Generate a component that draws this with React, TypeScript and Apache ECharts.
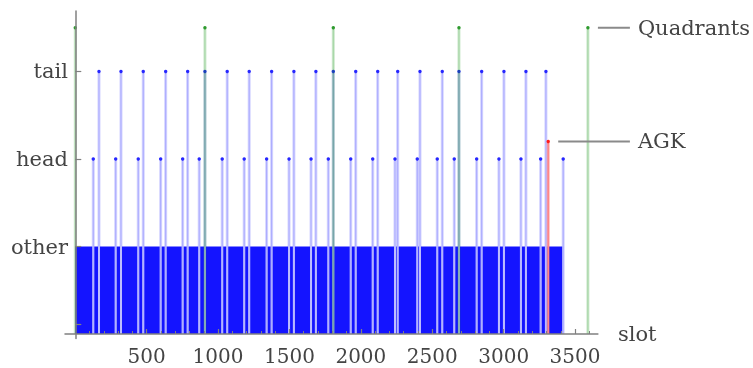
import React, { useEffect, useRef } from 'react';
import * as echarts from 'echarts';

// ---- data ----
const headSlots = [126, 283, 441, 598, 752, 868, 1029, 1183, 1340, 1497, 1651, 1772, 1929, 2083, 2239, 2395, 2535, 2654, 2811, 2967, 3121, 3259, 3417];
const tailSlots = [166, 320, 476, 633, 787, 908, 1064, 1218, 1375, 1531, 1685, 1807, 1964, 2118, 2258, 2414, 2570, 2687, 2846, 3002, 3156, 3296];
const quadrantSlots = [0, 908, 1807, 2687, 3590];
const agkSlots = [3312];

const otherLevel = 1;
const headLevel = 2;
const tailLevel = 3;
const quadrantLevel = 3.5;
const agkLevel = 2.2;

const yTickValues = [1, 2, 3];
const yTickLabels = ['other', 'head', 'tail'];
const yExtraTick = [0.11];
const xTickValues = [500, 1000, 1500, 2000, 2500, 3000, 3500];

const X_MIN = -72;
const X_MAX = 3660;
const Y_MIN = -0.05;
const Y_MAX = 3.69;

const FONT = '"DejaVu Serif", serif';
const TEXT_COLOR = '#444';
const AXIS_COLOR = '#808080';

// "other" covers every slot from 0 up to the last head, except the head/tail/AGK slots
const eventSlots = [...headSlots, ...tailSlots, ...agkSlots].sort((a, b) => a - b);
const otherSegments: number[][] = [];
{
  let prev = 0;
  for (const e of eventSlots) {
    otherSegments.push([prev, e]);
    prev = e;
  }
}

const headData = headSlots.map((s) => [s, headLevel]);
const tailData = tailSlots.map((s) => [s, tailLevel]);
const quadrantData = quadrantSlots.map((s) => [s, quadrantLevel]);
const agkData = agkSlots.map((s) => [s, agkLevel]);

function makeStemRender(band: string, core: string, dot: string, label: string | null, count: number) {
  return (params: any, api: any) => {
    const x = api.value(0);
    const y = api.value(1);
    const top = api.coord([x, y]);
    const base = api.coord([x, 0]);
    const children: any[] = [
      { type: 'line', shape: { x1: top[0], y1: base[1], x2: top[0], y2: top[1] }, style: { stroke: band, lineWidth: 3 } },
      { type: 'line', shape: { x1: top[0], y1: base[1], x2: top[0], y2: top[1] }, style: { stroke: core, lineWidth: 1 } },
      { type: 'circle', shape: { cx: top[0], cy: top[1], r: 1.7 }, style: { fill: dot } },
    ];
    if (label && params.dataIndex === count - 1) {
      const lineEnd = api.coord([X_MAX, 0])[0] + 32;
      children.push({
        type: 'line',
        shape: { x1: top[0] + 10, y1: top[1], x2: lineEnd, y2: top[1] },
        style: { stroke: '#8a8a8a', lineWidth: 2 },
      });
      children.push({
        type: 'text',
        x: lineEnd + 8,
        y: top[1],
        style: { text: label, font: `21px ${FONT}`, fill: TEXT_COLOR, align: 'left', verticalAlign: 'middle' },
      });
    }
    return { type: 'group', children };
  };
}

export default function App() {
  const ref = useRef<HTMLDivElement>(null);
  useEffect(() => {
    if (!ref.current) return;
    const chart = echarts.init(ref.current, null, { renderer: 'svg' });
    const option: any = {
      animation: false,
      grid: { left: 65, top: 11.1, width: 532.9, height: 327.3, outerBoundsMode: 'none', containLabel: false },
      xAxis: {
        type: 'value',
        min: X_MIN,
        max: X_MAX,
        z: 10,
        axisLine: { show: true, onZero: true, lineStyle: { color: AXIS_COLOR, width: 1.5 } },
        axisTick: { show: true, inside: true, length: 5, customValues: xTickValues, lineStyle: { color: AXIS_COLOR, width: 1.2 } },
        minorTick: { show: true, splitNumber: 10, length: 3, lineStyle: { color: AXIS_COLOR, width: 1 } },
        axisLabel: { customValues: xTickValues, formatter: (v: number) => String(v), margin: 8, fontFamily: FONT, fontSize: 20, color: TEXT_COLOR },
        splitLine: { show: false },
        minorSplitLine: { show: false },
        name: 'slot',
        nameLocation: 'end',
        nameGap: 20,
        nameTextStyle: { fontFamily: FONT, fontSize: 21, color: TEXT_COLOR, align: 'left', verticalAlign: 'middle' },
      },
      yAxis: {
        type: 'value',
        min: Y_MIN,
        max: Y_MAX,
        z: 10,
        axisLine: { show: true, onZero: true, lineStyle: { color: AXIS_COLOR, width: 1.5 } },
        axisTick: { show: true, inside: true, length: 6, customValues: [...yExtraTick, ...yTickValues], lineStyle: { color: AXIS_COLOR, width: 1.2 } },
        axisLabel: {
          customValues: yTickValues,
          formatter: (v: number) => yTickLabels[yTickValues.indexOf(Math.round(v))] ?? '',
          margin: -3,
          fontFamily: FONT,
          fontSize: 21,
          color: TEXT_COLOR,
        },
        splitLine: { show: false },
      },
      series: [
        {
          type: 'custom',
          name: 'other',
          clip: false,
          data: otherSegments,
          encode: { x: [0, 1] },
          renderItem: (params: any, api: any) => {
            const s = api.value(0);
            const e = api.value(1);
            const p0 = api.coord([s, otherLevel]);
            const p1 = api.coord([e, 0]);
            const gap = 1;
            const x0 = s === 0 ? p0[0] : p0[0] + gap;
            const x1 = p1[0] - gap;
            return {
              type: 'rect',
              shape: { x: x0, y: p0[1], width: Math.max(0, x1 - x0), height: p1[1] - p0[1] },
              style: { fill: '#1414ff' },
            };
          },
        },
        {
          type: 'custom',
          name: 'head',
          clip: false,
          data: headData,
          encode: { x: 0, y: 1 },
          renderItem: makeStemRender('rgba(40,40,255,0.2)', 'rgba(40,40,255,0.25)', '#2626ff', null, headData.length),
        },
        {
          type: 'custom',
          name: 'tail',
          clip: false,
          data: tailData,
          encode: { x: 0, y: 1 },
          renderItem: makeStemRender('rgba(40,40,255,0.2)', 'rgba(40,40,255,0.25)', '#2626ff', null, tailData.length),
        },
        {
          type: 'custom',
          name: 'Quadrants',
          clip: false,
          data: quadrantData,
          encode: { x: 0, y: 1 },
          renderItem: makeStemRender('rgba(0,140,0,0.2)', 'rgba(0,140,0,0.22)', '#2e9a2e', 'Quadrants', quadrantData.length),
        },
        {
          type: 'custom',
          name: 'AGK',
          clip: false,
          data: agkData,
          encode: { x: 0, y: 1 },
          renderItem: makeStemRender('rgba(255,0,0,0.3)', 'rgba(255,0,0,0.35)', '#ff1a1a', 'AGK', agkData.length),
        },
      ],
    };
    chart.setOption(option);
    return () => chart.dispose();
  }, []);
  return <div ref={ref} style={{ position: 'fixed', left: 0, top: 0, width: 753, height: 368 }} />;
}
